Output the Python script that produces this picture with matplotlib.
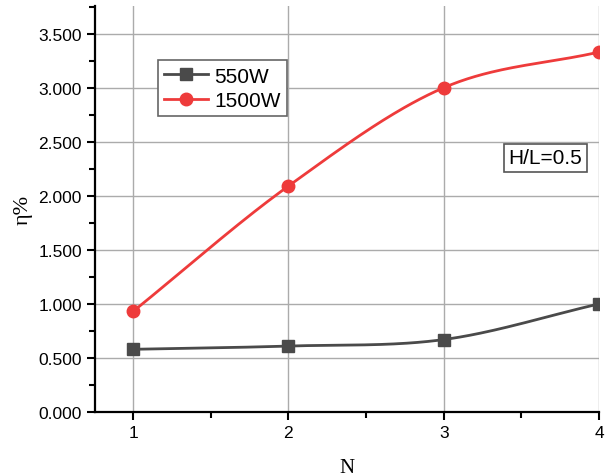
import numpy as np
import matplotlib
matplotlib.use("Agg")
import matplotlib.pyplot as plt
from matplotlib.ticker import MultipleLocator, FormatStrFormatter

# values
n_vals = [1, 2, 3, 4]
eff_550 = [0.58, 0.61, 0.67, 1.00]
eff_1500 = [0.93, 2.09, 3.00, 3.33]
series_labels = ["550W", "1500W"]


def smooth(x, y, pts=60):
    # cubic hermite curve through the points (like Origin's spline connect)
    x = np.asarray(x, float)
    y = np.asarray(y, float)
    m = np.gradient(y, x)
    xs, ys = [], []
    for i in range(len(x) - 1):
        h = x[i + 1] - x[i]
        t = np.linspace(0, 1, pts)
        h00 = 2 * t**3 - 3 * t**2 + 1
        h10 = t**3 - 2 * t**2 + t
        h01 = -2 * t**3 + 3 * t**2
        h11 = t**3 - t**2
        xs.append(x[i] + t * h)
        ys.append(h00 * y[i] + h10 * h * m[i] + h01 * y[i + 1] + h11 * h * m[i + 1])
    return np.concatenate(xs), np.concatenate(ys)


plt.rcParams['font.family'] = ['Liberation Sans', 'DejaVu Sans']

fig = plt.figure(figsize=(6.12, 4.77), dpi=100)
ax = fig.add_axes([0.1552, 0.1342, 0.8236, 0.8511])

c_black = '#4a4a4a'
c_red = '#ee3b3b'

sx, sy = smooth(n_vals, eff_550)
ax.plot(sx, sy, color=c_black, lw=2, zorder=3)
ax.plot(n_vals, eff_550, 's', color=c_black, ms=8, zorder=4)
sx, sy = smooth(n_vals, eff_1500)
ax.plot(sx, sy, color=c_red, lw=2, zorder=3)
ax.plot(n_vals, eff_1500, 'o', color=c_red, ms=9, zorder=4)

# legend handles
h1, = ax.plot([], [], '-s', color=c_black, lw=2, ms=8)
h2, = ax.plot([], [], '-o', color=c_red, lw=2, ms=9)
leg = ax.legend([h1, h2], series_labels, loc='upper left',
                bbox_to_anchor=(0.125, 0.866), fontsize=15, fancybox=False,
                edgecolor='#666666', framealpha=1, handlelength=2.1,
                borderpad=0.3, labelspacing=0.25, handletextpad=0.3,
                borderaxespad=0)
leg.get_frame().set_linewidth(1.2)

ax.text(0.893, 0.626, "H/L=0.5", transform=ax.transAxes, fontsize=15,
        ha='center', va='center',
        bbox=dict(boxstyle='square,pad=0.22', fc='white', ec='#555555', lw=1.2))

ax.set_xlim(0.755, 4.0)
ax.set_ylim(0, 3.756)
ax.xaxis.set_major_locator(MultipleLocator(1))
ax.xaxis.set_minor_locator(MultipleLocator(0.5))
ax.yaxis.set_major_locator(MultipleLocator(0.5))
ax.yaxis.set_minor_locator(MultipleLocator(0.25))
ax.yaxis.set_major_formatter(FormatStrFormatter('%.3f'))

ax.grid(True, which='major', color='#ababab', lw=1)
ax.set_axisbelow(True)
for s in ['top', 'right']:
    ax.spines[s].set_visible(False)
for s in ['left', 'bottom']:
    ax.spines[s].set_linewidth(1.6)
ax.tick_params(which='major', direction='out', length=6, width=1.5, labelsize=12.5)
ax.tick_params(which='minor', direction='out', length=4, width=1.5)

ax.set_xlabel("N", family=['Liberation Serif', 'DejaVu Serif'], fontsize=15, labelpad=13)
ax.set_ylabel("η%", family=['Liberation Serif', 'DejaVu Serif'], fontsize=16, labelpad=4)

fig.savefig("out.png", dpi=100)
